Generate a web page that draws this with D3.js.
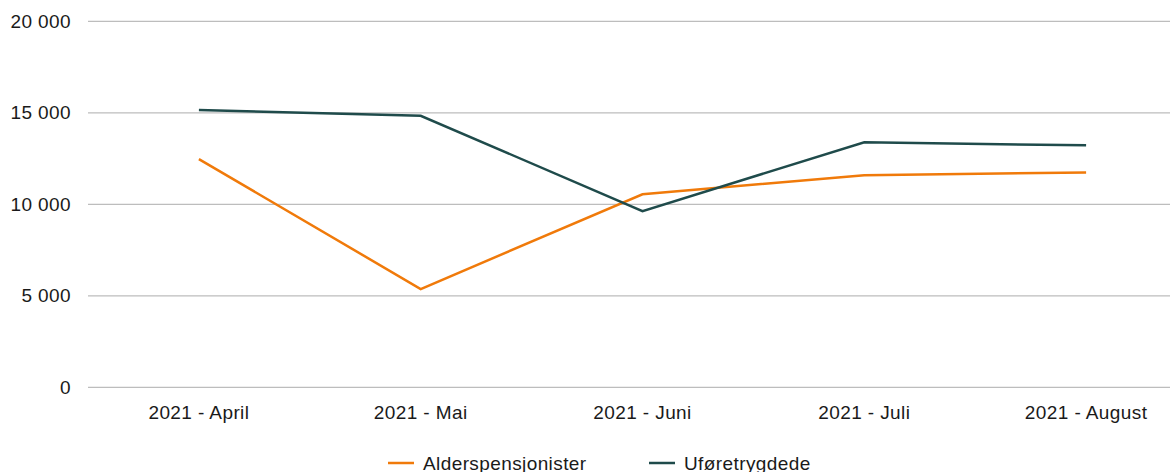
<!DOCTYPE html>
<html>
<head>
<meta charset="utf-8">
<script src="https://cdn.jsdelivr.net/npm/d3@7"></script>
<style>
    body { margin: 0; background: #fff; }
    svg { display: block; overflow: hidden; }
    text { font-family: "Liberation Sans", Arial, sans-serif; fill: #1a1a1a; font-size: 19px; letter-spacing: 0.4px; }
</style>
</head>
<body>
<svg id="chart" width="1170" height="472"></svg>
<script>
const months = ['2021 - April', '2021 - Mai', '2021 - Juni', '2021 - Juli', '2021 - August'];
const alderspensjonister = [12470, 5370, 10550, 11590, 11740];
const uforetrygdede = [15150, 14840, 9630, 13390, 13220];
const yTicks = [0, 5000, 10000, 15000, 20000];

const series = [
    { name: 'Alderspensjonister', values: alderspensjonister, colour: '#f07a0a' },
    { name: 'Uføretrygdede', values: uforetrygdede, colour: '#1f4b4b' }
];

const svg = d3.select('#chart');
const width = 1170;

// plot area runs past the right edge in the original, so it is cut off there
const x = d3.scalePoint().domain(months).range([88, 1197]).padding(0.5);
const y = d3.scaleLinear().domain([0, 20000]).range([387.3, 21.3]);

const fmt = v => d3.format(',')(v).replace(/,/g, ' ');

// gridlines
svg.append('g')
    .selectAll('line')
    .data(yTicks)
    .join('line')
    .attr('x1', 88)
    .attr('x2', width)
    .attr('y1', d => y(d))
    .attr('y2', d => y(d))
    .attr('stroke', '#bdbdbd')
    .attr('stroke-width', 1.2);

// y labels
svg.append('g')
    .selectAll('text')
    .data(yTicks)
    .join('text')
    .attr('x', 71)
    .attr('y', d => y(d) + 6.5)
    .attr('text-anchor', 'end')
    .text(fmt);

// x labels
svg.append('g')
    .selectAll('text')
    .data(months)
    .join('text')
    .attr('x', d => x(d))
    .attr('y', 419)
    .attr('text-anchor', 'middle')
    .text(d => d);

const line = d3.line()
    .x((d, i) => x(months[i]))
    .y(d => y(d));

svg.append('g')
    .selectAll('path')
    .data(series)
    .join('path')
    .attr('d', d => line(d.values))
    .attr('fill', 'none')
    .attr('stroke', d => d.colour)
    .attr('stroke-width', 2.5)
    .attr('stroke-linejoin', 'miter');

// legend
const legendX = [388, 649];
const legend = svg.append('g')
    .selectAll('g')
    .data(series)
    .join('g')
    .attr('transform', (d, i) => `translate(${legendX[i]}, 463)`);

legend.append('line')
    .attr('x1', 0)
    .attr('x2', 26)
    .attr('stroke', d => d.colour)
    .attr('stroke-width', 2.5);

legend.append('text')
    .attr('x', 35)
    .attr('y', 6.5)
    .text(d => d.name);
</script>
</body>
</html>
